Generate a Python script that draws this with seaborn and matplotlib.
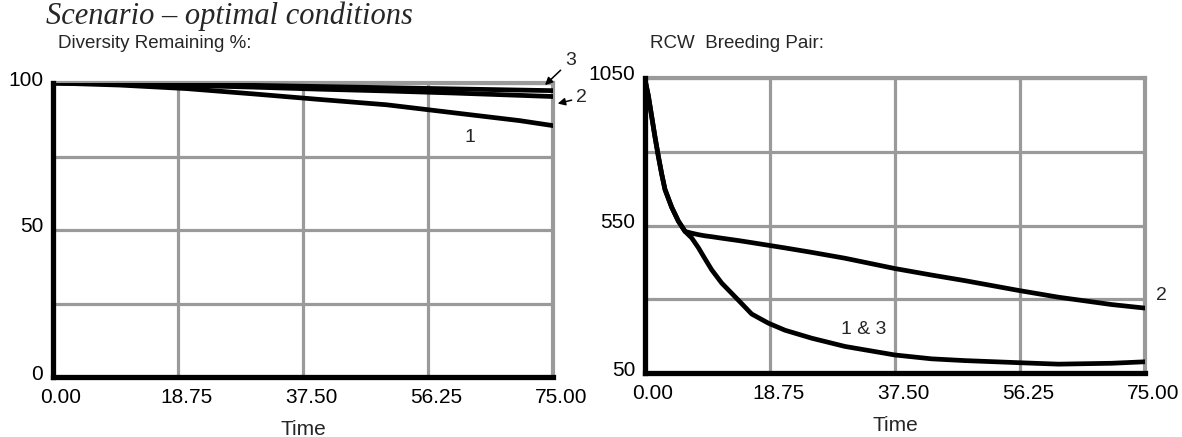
import pandas as pd
import seaborn as sns
import matplotlib.pyplot as plt
from matplotlib.transforms import ScaledTranslation

# --- data ---
div_time = [0, 10, 20, 30, 40, 50, 60, 70, 75]
div_run1 = [100, 99.3, 98.1, 96.3, 94.4, 92.6, 89.9, 87.2, 85.5]
div_run2 = [100, 99.7, 99.2, 98.6, 97.9, 97.3, 96.6, 95.8, 95.4]
div_run3 = [100, 99.9, 99.6, 99.2, 98.8, 98.4, 98.0, 97.6, 97.4]

rcw_time = [0, 0.5, 1, 1.5, 2, 2.5, 3, 4, 5, 6, 7, 8, 9, 10, 11.5, 14, 16,
            18.5, 21, 25, 30, 37.5, 43, 48, 56, 62, 70, 75]
rcw_run13 = [1045, 990, 920, 850, 785, 725, 672, 612, 565, 530, 508, 475, 437,
             400, 355, 297, 250, 219, 195, 168, 140, 111, 98, 92, 85, 80, 83, 88]
rcw_run2 = [1045, 990, 920, 850, 785, 725, 672, 612, 565, 530, 524, 519, 515,
            512, 507, 499, 492, 483, 474, 459, 439, 404, 382, 363, 330, 307, 282, 270]

x_ticks = [0, 18.75, 37.5, 56.25, 75]
x_ticklabels = ['0.00', '18.75', '37.50', '56.25', '75.00']
div_yticks = [0, 25, 50, 75, 100]
div_ylabels = ['0', '', '50', '', '100']
rcw_yticks = [50, 300, 550, 800, 1050]
rcw_ylabels = ['50', '', '550', '', '1050']

df_div = pd.DataFrame({
    'Time': div_time * 3,
    'Value': div_run1 + div_run2 + div_run3,
    'Run': ['1'] * len(div_time) + ['2'] * len(div_time) + ['3'] * len(div_time),
})
df_rcw = pd.DataFrame({
    'Time': rcw_time * 2,
    'Value': rcw_run13 + rcw_run2,
    'Run': ['1 & 3'] * len(rcw_time) + ['2'] * len(rcw_time),
})

sns.set_style('white')
plt.rcParams['font.family'] = ['Liberation Sans', 'DejaVu Sans']

fig = plt.figure(figsize=(11.82, 4.37), dpi=100)
ax1 = fig.add_axes([53 / 1182, 60 / 437, 500 / 1182, 294 / 437])
ax2 = fig.add_axes([645 / 1182, 64 / 437, 500 / 1182, 295 / 437])

GRID = '#9a9a9a'
TICK_FS = 15


def style_axis(ax, yticks, ylabels, ylim):
    ax.set_xlim(0, 75)
    ax.set_ylim(*ylim)
    ax.set_xticks(x_ticks)
    ax.set_xticklabels(x_ticklabels)
    ax.set_yticks(yticks)
    ax.set_yticklabels(ylabels)
    ax.tick_params(length=0, labelsize=TICK_FS, colors='black')
    ax.tick_params(axis='x', pad=8)
    ax.tick_params(axis='y', pad=7)
    ax.grid(True, color=GRID, linewidth=2.3)
    ax.set_axisbelow(True)
    for side in ['left', 'bottom']:
        ax.spines[side].set_color('black')
        ax.spines[side].set_linewidth(3.8)
        ax.spines[side].set_zorder(5)
    for side in ['top', 'right']:
        ax.spines[side].set_color(GRID)
        ax.spines[side].set_linewidth(3.0)
    ax.set_xlabel('Time', fontsize=TICK_FS, labelpad=9)
    ax.set_ylabel('')
    # labels sit a little above their grid lines in the original
    for lab in ax.get_yticklabels():
        lab.set_transform(lab.get_transform() + ScaledTranslation(0, 0.05, fig.dpi_scale_trans))
    for lab in ax.get_xticklabels():
        lab.set_transform(lab.get_transform() + ScaledTranslation(0.08, 0, fig.dpi_scale_trans))


sns.lineplot(data=df_div, x='Time', y='Value', hue='Run',
             palette=['black'] * 3, linewidth=3.4, legend=False, ax=ax1, zorder=4)
style_axis(ax1, div_yticks, div_ylabels, (0, 100))

sns.lineplot(data=df_rcw, x='Time', y='Value', hue='Run',
             palette=['black'] * 2, linewidth=3.4, legend=False, ax=ax2, zorder=4)
style_axis(ax2, rcw_yticks, rcw_ylabels, (50, 1050))

# run labels
arrow = dict(arrowstyle='-|>', color='black', lw=1.1, mutation_scale=11,
             shrinkA=1, shrinkB=0)
ax1.text(62.5, 81.6, '1', fontsize=14, ha='center', va='center')
ax1.annotate('3', xy=(73.8, 99.3), xytext=(77.6, 107.5), fontsize=14,
             ha='center', va='center', annotation_clip=False, arrowprops=arrow)
ax1.annotate('2', xy=(75.7, 93.0), xytext=(79.3, 95.0), fontsize=14,
             ha='center', va='center', annotation_clip=False, arrowprops=arrow)
ax2.text(32.8, 196, '1 & 3', fontsize=14, ha='center', va='center')
ax2.text(77.4, 314, '2', fontsize=14, ha='center', va='center', clip_on=False)

# titles
fig.text(46 / 1182, 1 - 24 / 437, 'Scenario \u2013 optimal conditions',
         family='Liberation Serif', style='italic', fontsize=22, va='baseline')
fig.text(58 / 1182, 1 - 48 / 437, 'Diversity Remaining %:', fontsize=13.5, va='baseline')
fig.text(650 / 1182, 1 - 48 / 437, 'RCW  Breeding Pair:', fontsize=13.5, va='baseline')

fig.savefig('out.png', dpi=100)
